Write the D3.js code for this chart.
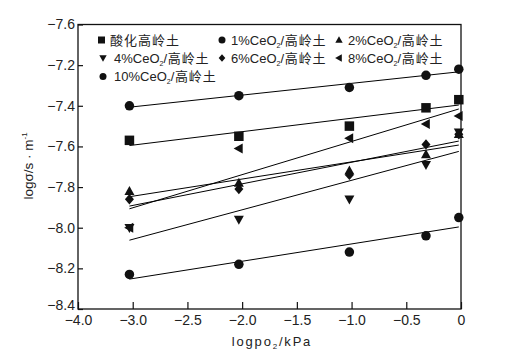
<!DOCTYPE html>
<html><head><meta charset="utf-8">
<script src="https://cdn.jsdelivr.net/npm/d3@7"></script>
<style>body{margin:0;background:#fff}svg{display:block}</style>
</head><body>
<svg id="c" width="528" height="364"></svg>
<script>
const xVals = [-3.03, -2.03, -1.02, -0.32, -0.02];
const seriesNames = ["酸化高岭土", "1%CeO₂/高岭土", "2%CeO₂/高岭土", "4%CeO₂/高岭土", "6%CeO₂/高岭土", "8%CeO₂/高岭土", "10%CeO₂/高岭土"];
const s0 = [-7.57, -7.55, -7.50, -7.41, -7.37];
const s1 = [-7.40, -7.35, -7.31, -7.25, -7.22];
const s2 = [-7.82, -7.78, -7.72, -7.64, -7.54];
const s3 = [-8.00, -7.96, -7.86, -7.69, -7.53];
const s4 = [-7.86, -7.81, -7.74, -7.59, -7.54];
const s5 = [-8.00, -7.61, -7.56, -7.49, -7.45];
const s6 = [-8.23, -8.18, -8.12, -8.04, -7.95];
const seriesValues = [s0, s1, s2, s3, s4, s5, s6];
const xTickVals = [-3.5, -3, -2.5, -2, -1.5, -1, -0.5, 0];
const xTickLabels = ["−4.0", "−3.0", "−2.5", "−2.0", "−1.5", "−1.0", "−0.5", "0"];
const yTickVals = [-8.4, -8.2, -8.0, -7.8, -7.6, -7.4, -7.2, -7.0];
const yTickLabels = ["−8.4", "−8.2", "−8.0", "−7.8", "−7.6", "−7.4", "−7.2", "−7.6"];

const svg = d3.select("#c");
const L = 78, R = 461, T = 24.5, B = 309;
const x = d3.scaleLinear().domain([-3.5, 0]).range([L, R]);
const y = d3.scaleLinear().domain([-8.4, -7.0]).range([B, T]);
const fontNum = "'Liberation Sans', Arial, 'Noto Sans CJK SC', sans-serif";

const shapes = ["square", "circle", "up", "down", "diamond", "left", "circle"];
function markerPath(kind, s) {
  const h = s / 2;
  switch (kind) {
    case "square": return `M${-h},${-h}H${h}V${h}H${-h}Z`;
    case "circle": return d3.symbol(d3.symbolCircle, Math.PI * h * h)();
    case "up": return `M0,${-h * 1.1}L${h * 1.05},${h * 0.8}L${-h * 1.05},${h * 0.8}Z`;
    case "down": return `M0,${h * 1.1}L${h * 1.05},${-h * 0.8}L${-h * 1.05},${-h * 0.8}Z`;
    case "left": return `M${-h * 1.1},0L${h * 0.8},${-h * 1.05}L${h * 0.8},${h * 1.05}Z`;
    case "diamond": return `M0,${-h * 1.1}L${h * 0.95},0L0,${h * 1.1}L${-h * 0.95},0Z`;
  }
}

// regression lines
seriesValues.forEach((vals) => {
  const mx = d3.mean(xVals), my = d3.mean(vals);
  let sxy = 0, sxx = 0;
  xVals.forEach((xv, i) => { sxy += (xv - mx) * (vals[i] - my); sxx += (xv - mx) * (xv - mx); });
  const b = sxy / sxx, a = my - b * mx;
  const x0 = d3.min(xVals), x1 = d3.max(xVals);
  svg.append("line")
    .attr("x1", x(x0)).attr("y1", y(a + b * x0))
    .attr("x2", x(x1)).attr("y2", y(a + b * x1))
    .attr("stroke", "#000").attr("stroke-width", 1);
});

// points
seriesValues.forEach((vals, si) => {
  svg.append("g").selectAll("path").data(vals).join("path")
    .attr("transform", (d, i) => `translate(${x(xVals[i])},${y(d)})`)
    .attr("d", markerPath(shapes[si], 9.5))
    .attr("fill", "#111");
});

// frame
svg.append("rect").attr("x", L).attr("y", T).attr("width", R - L).attr("height", B - T)
  .attr("fill", "none").attr("stroke", "#111").attr("stroke-width", 1.3);

// x axis
const xAxis = d3.axisBottom(x).tickValues(xTickVals).tickSizeInner(-7).tickSizeOuter(0)
  .tickPadding(6).tickFormat((d, i) => xTickLabels[i]);
const gx = svg.append("g").attr("transform", `translate(0,${B})`).call(xAxis);
gx.select(".domain").remove();
gx.selectAll("line").attr("stroke", "#111").attr("stroke-width", 1.2);
gx.selectAll("text").attr("font-family", fontNum).attr("font-size", 14).attr("fill", "#222");

// y axis
const yAxis = d3.axisLeft(y).tickValues(yTickVals).tickSizeInner(-5).tickSizeOuter(0)
  .tickPadding(3).tickFormat((d, i) => yTickLabels[i]);
const gy = svg.append("g").attr("transform", `translate(${L},0)`).call(yAxis);
gy.select(".domain").remove();
gy.selectAll("line").attr("stroke", "#111").attr("stroke-width", 1.2);
gy.selectAll("text").attr("font-family", fontNum).attr("font-size", 14).attr("fill", "#222");
gy.selectAll(".tick").filter((d, i) => i === 0).select("text").attr("y", -4);

// axis titles
const xt = svg.append("text").attr("x", 272).attr("y", 346).attr("text-anchor", "middle")
  .attr("font-family", fontNum).attr("font-size", 13).attr("letter-spacing", 1.8).attr("fill", "#222");
xt.append("tspan").text("logpo");
xt.append("tspan").attr("font-size", 8).attr("dy", 3).text("2");
xt.append("tspan").attr("dy", -3).text("/kPa");

const yt = svg.append("text").attr("transform", "translate(33,166) rotate(-90)").attr("text-anchor", "middle")
  .attr("font-family", fontNum).attr("font-size", 13.5).attr("fill", "#222");
yt.append("tspan").text("logσ/s · m");
yt.append("tspan").attr("font-size", 8).attr("dy", -6).text("-1");

// legend
const legPos = [[101.5, 40, 110], [222, 40, 231], [339, 40, 348], [103, 58, 114], [222, 58, 231], [339, 58, 348], [103, 76.5, 114]];
seriesNames.forEach((name, i) => {
  const [lx, ly, tx] = legPos[i];
  svg.append("path").attr("transform", `translate(${lx},${ly})`)
    .attr("d", markerPath(shapes[i], 7)).attr("fill", "#111");
  const t = svg.append("text").attr("x", tx).attr("y", ly + 4.5)
    .attr("font-family", fontNum).attr("font-size", 13).attr("fill", "#222");
  const parts = name.split("₂");
  if (parts.length > 1) {
    t.append("tspan").text(parts[0]);
    t.append("tspan").attr("font-size", 7).attr("dy", 3).text("2");
    t.append("tspan").attr("dy", -3).attr("letter-spacing", 0.8).text(parts[1]);
  } else {
    t.attr("letter-spacing", 1).text(name);
  }
});
</script>
</body></html>
